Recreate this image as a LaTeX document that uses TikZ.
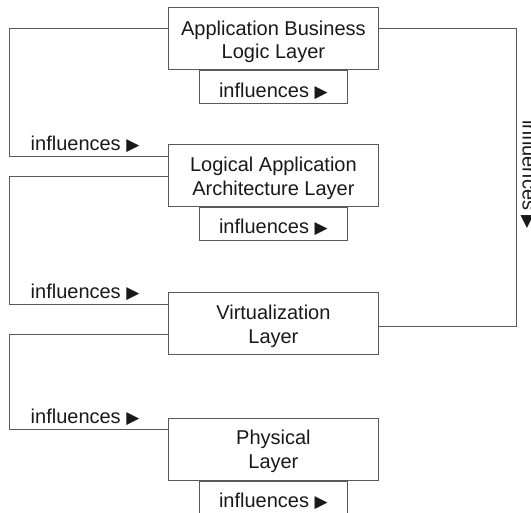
\documentclass[tikz,border=0pt]{standalone}
\usepackage{fontspec}
\setmainfont{Liberation Sans}
\newfontfamily\symfont{DejaVu Sans}
\usetikzlibrary{positioning}

\newcommand{\tri}{{\symfont\fontsize{17}{17}\selectfont ▶}}

\tikzset{
	layer/.style={draw=black!65, line width=0.9pt, minimum width=210pt, minimum height=62.5pt, inner sep=0pt},
	subbox/.style={draw=black!65, line width=0.9pt, minimum width=148pt, minimum height=33pt, inner sep=0pt},
	wire/.style={draw=black!65, line width=0.9pt},
	tag/.style={font=\fontsize{20}{23.5}\selectfont, text=black!90, inner sep=0pt}
}

\begin{document}
\begin{tikzpicture}[x=1pt, y=-1pt]
	\useasboundingbox (0,0) rectangle (531,513);
	
	% Layer boxes
	\node[layer, label={[tag, align=center, yshift=-3pt]center:Application Business\\Logic Layer}] (b1) at (273.4,38.7) {};
	\node[layer, label={[tag, align=center, yshift=-3pt]center:Logical Application\\Architecture Layer}] (b2) at (273.4,175.4) {};
	\node[layer, label={[tag, align=center, yshift=-3pt]center:Virtualization\\Layer}] (b3) at (273.4,323.5) {};
	\node[layer, label={[tag, align=center, yshift=-2pt]center:Physical\\Layer}] (b4) at (273.4,449.5) {};
	
	% Self influence boxes
	\node[subbox, below=0pt of b1, label={[tag, yshift=-3.5pt]center:influences \tri}] (s1) {};
	\node[subbox, below=0pt of b2, label={[tag, yshift=-3.5pt]center:influences \tri}] (s2) {};
	\node[subbox, below=0pt of b4, label={[tag, yshift=-3.5pt]center:influences \tri}] (s4) {};
	
	% Left loops
	\draw[wire] ([yshift=10.3pt]b1.west) -- ++(-158.5,0) |- ([yshift=19.4pt]b2.west);
	\draw[wire] ([yshift=-1pt]b2.west) -- ++(-158.5,0) |- ([yshift=19.5pt]b3.west);
	\draw[wire] ([yshift=-10.5pt]b3.west) -- ++(-158.5,0) |- ([yshift=20pt]b4.west);
	\node[tag, anchor=base west] (i1) at (30.5,150.5) {influences \tri};
	\node[tag, anchor=base west] (i2) at (30.5,298.5) {influences \tri};
	\node[tag, anchor=base west] (i3) at (30.5,424) {influences \tri};
	
	% Right loop
	\draw[wire] ([yshift=10.3pt]b1.east) -- ++(137.2,0) |- ([yshift=-2.5pt]b3.east);
	\node[tag, rotate=-90, anchor=base west] (i4) at (522.5,120) {influences \tri};
	
\end{tikzpicture}
\end{document}
